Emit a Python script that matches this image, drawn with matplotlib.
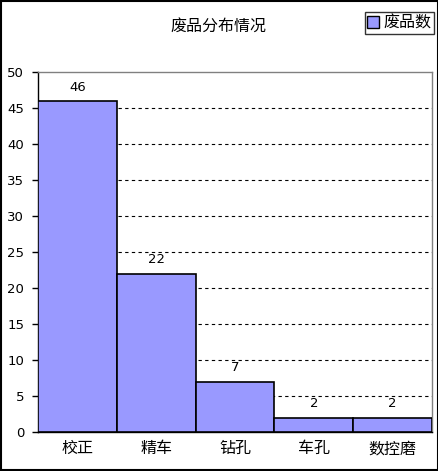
import matplotlib

matplotlib.use("Agg")
import matplotlib.pyplot as plt
import numpy as np
from matplotlib.patches import Patch

plt.rcParams["font.family"] = ["Noto Sans CJK SC", "DejaVu Sans"]

CATEGORIES = ["校正", "精车", "钻孔", "车孔", "数控磨"]
COUNTS = [46, 22, 7, 2, 2]
TITLE = "废品分布情况"
SERIES = "废品数"
BAR_COLOR = "#9999FF"

fig = plt.figure(figsize=(4.39, 4.71), dpi=100)
# black frame around whole chart
fig.patches.append(plt.Rectangle((0.002, 0.002), 0.996, 0.996, transform=fig.transFigure,
                                 fill=False, edgecolor="black", lw=1.5))
ax = fig.add_axes([0.087, 0.083, 0.897, 0.764])

x = np.arange(len(CATEGORIES))
ax.bar(x, COUNTS, width=1.0, color=BAR_COLOR, edgecolor="black", lw=1.2, zorder=3)
for xi, v in zip(x, COUNTS):
    ax.text(xi, v + 1.0, str(v), ha="center", va="bottom", fontsize=9.5, family="DejaVu Sans")

ax.set_xlim(-0.5, len(CATEGORIES) - 0.5)
ax.set_ylim(0, 50)
ax.set_yticks(np.arange(0, 51, 5))
ax.set_yticklabels([str(t) for t in range(0, 51, 5)], fontsize=9.5, family="DejaVu Sans")
ax.set_xticks(x)
ax.set_xticklabels(CATEGORIES, fontsize=11.5)
ax.tick_params(axis="x", length=0, pad=6)
ax.tick_params(axis="y", direction="out", length=4, width=1, pad=6)

for y in range(5, 50, 5):
    ax.axhline(y, color="black", ls=(0, (3, 3)), lw=0.8, zorder=1)

ax.spines["left"].set_color("black")
ax.spines["bottom"].set_color("black")
ax.spines["top"].set_color("#808080")
ax.spines["right"].set_color("#808080")
for s in ax.spines.values():
    s.set_linewidth(1.0)

fig.text(0.497, 0.945, TITLE, ha="center", va="center", fontsize=11.5)
leg = fig.legend(handles=[Patch(facecolor=BAR_COLOR, edgecolor="black", label=SERIES)],
                 loc="upper right", bbox_to_anchor=(0.988, 0.974), fontsize=11.5,
                 frameon=True, fancybox=False, handlelength=0.7, handleheight=0.7,
                 handletextpad=0.3, borderpad=0.15, borderaxespad=0)
leg.get_frame().set_edgecolor("black")
leg.get_frame().set_linewidth(1.0)

fig.savefig("out.png", dpi=100)
